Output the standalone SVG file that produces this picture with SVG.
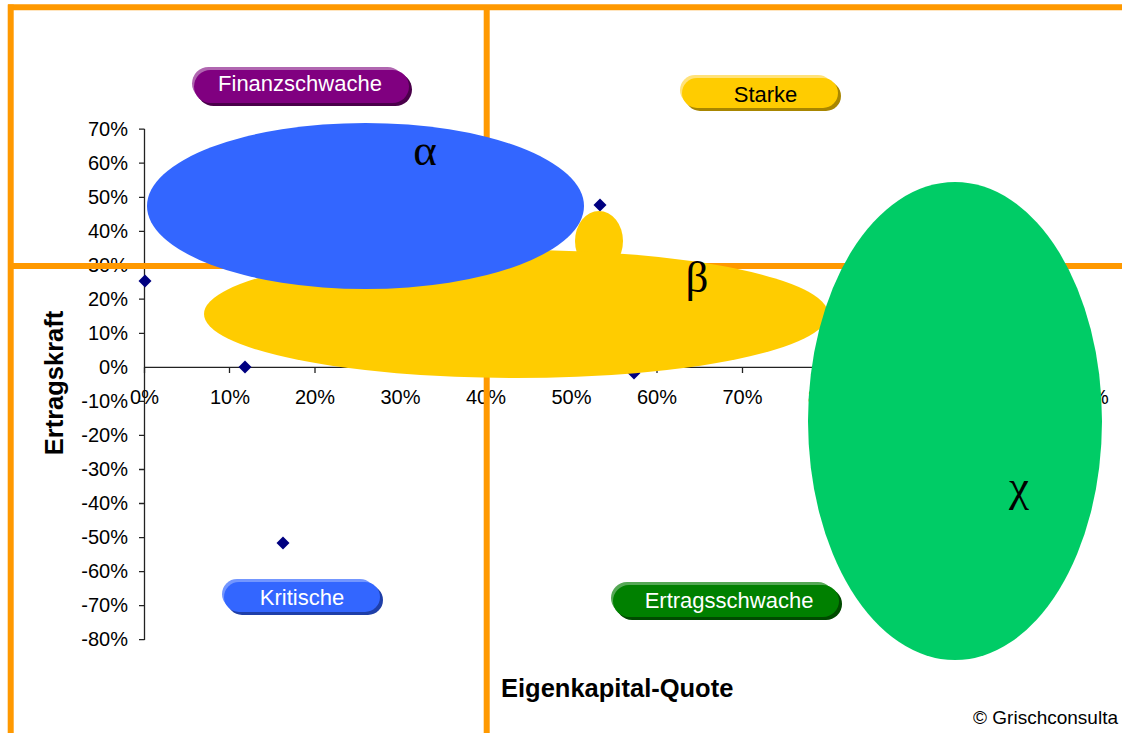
<svg xmlns="http://www.w3.org/2000/svg" width="1122" height="733" viewBox="0 0 1122 733">
<style>
.tk{font-family:"Liberation Sans",Arial,sans-serif;font-size:20px;fill:#000}
.yl{text-anchor:end}
.xl{text-anchor:middle}
.ax{stroke:#222;stroke-width:1.3;fill:none}
.or{stroke:#FF9900;stroke-width:6;fill:none}
.bt{font-family:"Liberation Sans",Arial,sans-serif;font-size:22px;text-anchor:middle}
.gr{font-family:"Liberation Serif","DejaVu Serif",serif;font-size:45px;text-anchor:middle;fill:#000}
.ti{font-family:"Liberation Sans",Arial,sans-serif;font-size:25.5px;font-weight:bold;fill:#000}
.pt{fill:#000080}
</style>
<defs>
<path id="dia" d="M0,-6.5 L6.5,0 L0,6.5 L-6.5,0 Z"/>
</defs>
<rect width="1122" height="733" fill="#fff"/>
<g id="axes">
<path class="ax" d="M144.5,129 V640 M139,129.2 H144.5 M139,163.2 H144.5 M139,197.3 H144.5 M139,231.3 H144.5 M139,265.3 H144.5 M139,299.2 H144.5 M139,333.3 H144.5 M139,401.4 H144.5 M139,435.4 H144.5 M139,469.5 H144.5 M139,503.5 H144.5 M139,537.6 H144.5 M139,571.6 H144.5 M139,605.7 H144.5 M139,639.7 H144.5"/>
<path class="ax" d="M144.5,367.3 H1084 M144.5,367.3 V373 M229.5,367.3 V373 M315,367.3 V373 M400.5,367.3 V373 M486,367.3 V373 M571.5,367.3 V373 M657,367.3 V373 M742.5,367.3 V373 M828,367.3 V373 M913.5,367.3 V373 M999,367.3 V373 M1084,367.3 V373"/>
<g class="tk yl">
<text x="128" y="136">70%</text>
<text x="128" y="170">60%</text>
<text x="128" y="204">50%</text>
<text x="128" y="238">40%</text>
<text x="128" y="272">30%</text>
<text x="128" y="306">20%</text>
<text x="128" y="340">10%</text>
<text x="128" y="374">0%</text>
<text x="128" y="408">-10%</text>
<text x="128" y="442">-20%</text>
<text x="128" y="476">-30%</text>
<text x="128" y="510">-40%</text>
<text x="128" y="544">-50%</text>
<text x="128" y="578">-60%</text>
<text x="128" y="612">-70%</text>
<text x="128" y="646">-80%</text>
</g>
<g class="tk xl">
<text x="144.5" y="404">0%</text>
<text x="230" y="404">10%</text>
<text x="315" y="404">20%</text>
<text x="400.5" y="404">30%</text>
<text x="486" y="404">40%</text>
<text x="571.5" y="404">50%</text>
<text x="657" y="404">60%</text>
<text x="742.5" y="404">70%</text>
<text x="828" y="404">80%</text>
<text x="913.5" y="404">90%</text>
<text x="999" y="404">100%</text>
<text x="1084" y="404">110%</text>
</g>
</g>
<g id="points" class="pt">
<use href="#dia" x="145" y="281"/>
<use href="#dia" x="245" y="367"/>
<use href="#dia" x="283" y="543"/>
<use href="#dia" x="600" y="205"/>
<use href="#dia" x="634" y="373"/>
</g>
<g id="quadrant-lines">
<path class="or" d="M8,7.3 H1122"/>
<path class="or" d="M10.7,4.5 V733"/>
<path class="or" d="M486.7,7.3 V733"/>
<path class="or" d="M10.7,266 H1122"/>
</g>
<g id="beta">
<ellipse cx="599" cy="241" rx="24" ry="30" fill="#FFCC00"/>
<ellipse cx="516" cy="314" rx="312" ry="64" fill="#FFCC00"/>
<text class="gr" x="697" y="292">β</text>
</g>
<g id="alpha">
<ellipse cx="365.5" cy="206" rx="218.5" ry="83" fill="#3366FF"/>
<text class="gr" x="425" y="165">α</text>
</g>
<g id="chi">
<ellipse cx="955" cy="421" rx="147" ry="239" fill="#00CC66"/>
<text class="gr" x="1019" y="501">χ</text>
</g>
<g id="btn-finanzschwache">
<rect x="197" y="73" width="215" height="33" rx="16.5" fill="#4a004a"/>
<rect x="192" y="67" width="212" height="33" rx="16.5" fill="#b066b0"/>
<rect x="194" y="70" width="215" height="33" rx="16.5" fill="#800080"/>
<text class="bt" x="300" y="91" fill="#fff">Finanzschwache</text>
</g>
<g id="btn-starke">
<rect x="685" y="81" width="156" height="30" rx="15" fill="#a88600"/>
<rect x="680" y="75" width="153" height="30" rx="15" fill="#ffe27a"/>
<rect x="682" y="78" width="156" height="30" rx="15" fill="#FFCC00"/>
<text class="bt" x="765.5" y="102" fill="#000">Starke</text>
</g>
<g id="btn-kritische">
<rect x="227" y="585" width="156" height="30" rx="15" fill="#1f3fa8"/>
<rect x="222" y="579" width="153" height="30" rx="15" fill="#7396ff"/>
<rect x="224" y="582" width="156" height="30" rx="15" fill="#3366FF"/>
<text class="bt" x="302" y="605" fill="#fff">Kritische</text>
</g>
<g id="btn-ertragsschwache">
<rect x="616" y="588" width="226" height="32" rx="16" fill="#004a00"/>
<rect x="611" y="582" width="223" height="32" rx="16" fill="#55a855"/>
<rect x="613" y="585" width="226" height="32" rx="16" fill="#008000"/>
<text class="bt" x="729" y="608" fill="#fff">Ertragsschwache</text>
</g>
<g id="titles">
<text class="ti" transform="translate(63,383) rotate(-90)" text-anchor="middle">Ertragskraft</text>
<text class="ti" x="501" y="697">Eigenkapital-Quote</text>
<text x="1118" y="724" text-anchor="end" font-family="Liberation Sans,Arial,sans-serif" font-size="19">© Grischconsulta</text>
</g>
</svg>
